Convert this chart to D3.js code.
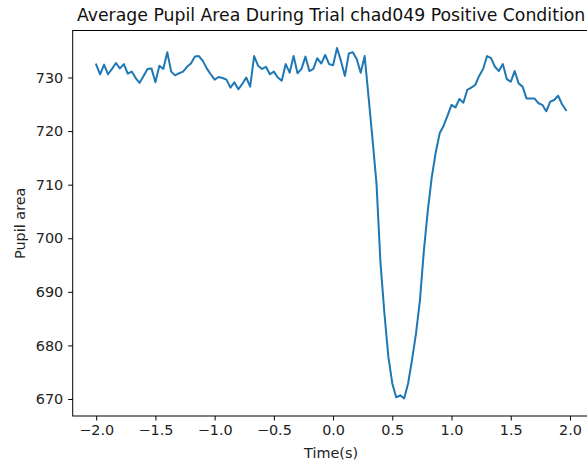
<!DOCTYPE html>
<html>
<head>
<meta charset="utf-8">
<script src="https://cdn.jsdelivr.net/npm/d3@7"></script>
<style>
    body { margin: 0; background: #fff; }
    svg { font-family: "DejaVu Sans", sans-serif; }
</style>
</head>
<body>
<svg id="chart"></svg>
<script>
// samples recorded at 30 Hz, starting 2 s before the event
const startTime = -2.0;
const frameRate = 30;

const pupilArea = [
    732.4, 730.6, 732.4, 730.6, 731.6, 732.7, 731.7, 732.5, 730.7, 731.1,
    729.9, 729.0, 730.3, 731.6, 731.7, 729.1, 732.2, 731.6, 734.7, 731.1,
    730.4, 730.8, 731.1, 732.0, 732.6, 733.9, 734.0, 733.1, 731.7, 730.6,
    729.6, 730.1, 729.9, 729.6, 728.1, 729.1, 727.8, 728.8, 730.0, 728.3,
    734.0, 732.2, 731.6, 732.0, 730.6, 731.1, 730.0, 729.4, 732.5, 730.9,
    734.0, 730.8, 731.6, 733.9, 731.2, 731.6, 733.6, 732.6, 734.2, 732.5,
    732.3, 735.5, 733.1, 730.3, 734.5, 734.7, 733.4, 730.9, 734.0, 726.3,
    718.4, 710.2, 695.5, 686.0, 677.9, 672.9, 670.3, 670.7, 670.1, 672.9,
    677.3, 682.2, 688.4, 697.7, 705.2, 711.4, 716.0, 719.6, 721.0, 722.9,
    724.9, 724.4, 726.0, 725.3, 727.7, 728.1, 728.6, 730.3, 731.6, 734.0,
    733.6, 732.0, 731.2, 732.5, 729.7, 729.2, 731.2, 728.9, 728.3, 726.1,
    726.1, 726.1, 725.2, 724.9, 723.7, 725.5, 725.8, 726.6, 725.0, 723.9
];

const xTicks = [-2.0, -1.5, -1.0, -0.5, 0.0, 0.5, 1.0, 1.5, 2.0];
const yTicks = [670, 680, 690, 700, 710, 720, 730];

const titleText = "Average Pupil Area During Trial chad049 Positive Condition";
const xLabel = "Time(s)";
const yLabel = "Pupil area";

class PupilChart {

    margin = {top: 30.5, bottom: 50, left: 72.7, right: -2.5}

    constructor(svg, values, width = 587, height = 466) {
        this.svg = svg;
        this.values = values;
        this.width = width;
        this.height = height;
    }

    initialize() {
        this.svg = d3.select(this.svg)
            .attr('width', this.width)
            .attr('height', this.height);

        this.data = this.values.map((v, i) => ({t: startTime + i / frameRate, v: v}));

        // matplotlib style 5% margins around the data
        const tExt = d3.extent(this.data, d => d.t);
        const vExt = d3.extent(this.data, d => d.v);
        const tPad = (tExt[1] - tExt[0]) * 0.05;
        const vPad = (vExt[1] - vExt[0]) * 0.05;

        this.x0 = this.margin.left;
        this.x1 = this.width - this.margin.right;
        this.y0 = this.height - this.margin.bottom;
        this.y1 = this.margin.top;

        this.xScale = d3.scaleLinear()
            .domain([tExt[0] - tPad, tExt[1] + tPad])
            .range([this.x0, this.x1]);
        this.yScale = d3.scaleLinear()
            .domain([vExt[0] - vPad, vExt[1] + vPad])
            .range([this.y0, this.y1]);
    }

    render() {
        const fmt = d => d3.format('.1f')(d).replace('-', '\u2212');

        const line = d3.line()
            .x(d => this.xScale(d.t))
            .y(d => this.yScale(d.v));

        this.svg.append('path')
            .datum(this.data)
            .attr('fill', 'none')
            .attr('stroke', '#1f77b4')
            .attr('stroke-width', 2)
            .attr('stroke-linejoin', 'round')
            .attr('stroke-linecap', 'square')
            .attr('d', line);

        const xAxis = this.svg.append('g')
            .attr('transform', `translate(0,${this.y0})`)
            .call(d3.axisBottom(this.xScale).tickValues(xTicks).tickFormat(fmt)
                .tickSize(4.5).tickPadding(4));
        const yAxis = this.svg.append('g')
            .attr('transform', `translate(${this.x0},0)`)
            .call(d3.axisLeft(this.yScale).tickValues(yTicks).tickFormat(d3.format('d'))
                .tickSize(4.5).tickPadding(5));

        [xAxis, yAxis].forEach(a => {
            a.select('.domain').remove();
            a.selectAll('line').attr('stroke', '#000').attr('stroke-width', 1);
            a.selectAll('text')
                .attr('fill', '#222')
                .attr('font-size', '14.4px')
                .attr('font-family', '"DejaVu Sans", sans-serif');
        });

        // frame
        this.svg.append('rect')
            .attr('x', this.x0)
            .attr('y', this.y1)
            .attr('width', this.x1 - this.x0)
            .attr('height', this.y0 - this.y1)
            .attr('fill', 'none')
            .attr('stroke', '#000')
            .attr('stroke-width', 1);

        const cx = (this.x0 + this.x1) / 2;

        this.svg.append('text')
            .attr('x', cx)
            .attr('y', 20.5)
            .attr('text-anchor', 'middle')
            .attr('font-size', '17.3px')
            .attr('fill', '#111')
            .text(titleText);

        this.svg.append('text')
            .attr('x', cx)
            .attr('y', 457.5)
            .attr('text-anchor', 'middle')
            .attr('font-size', '14.4px')
            .attr('fill', '#222')
            .text(xLabel);

        this.svg.append('text')
            .attr('transform', `translate(25,${(this.y0 + this.y1) / 2}) rotate(-90)`)
            .attr('text-anchor', 'middle')
            .attr('font-size', '14.4px')
            .attr('fill', '#222')
            .text(yLabel);
    }
}

const chart = new PupilChart('#chart', pupilArea);
chart.initialize();
chart.render();
</script>
</body>
</html>
